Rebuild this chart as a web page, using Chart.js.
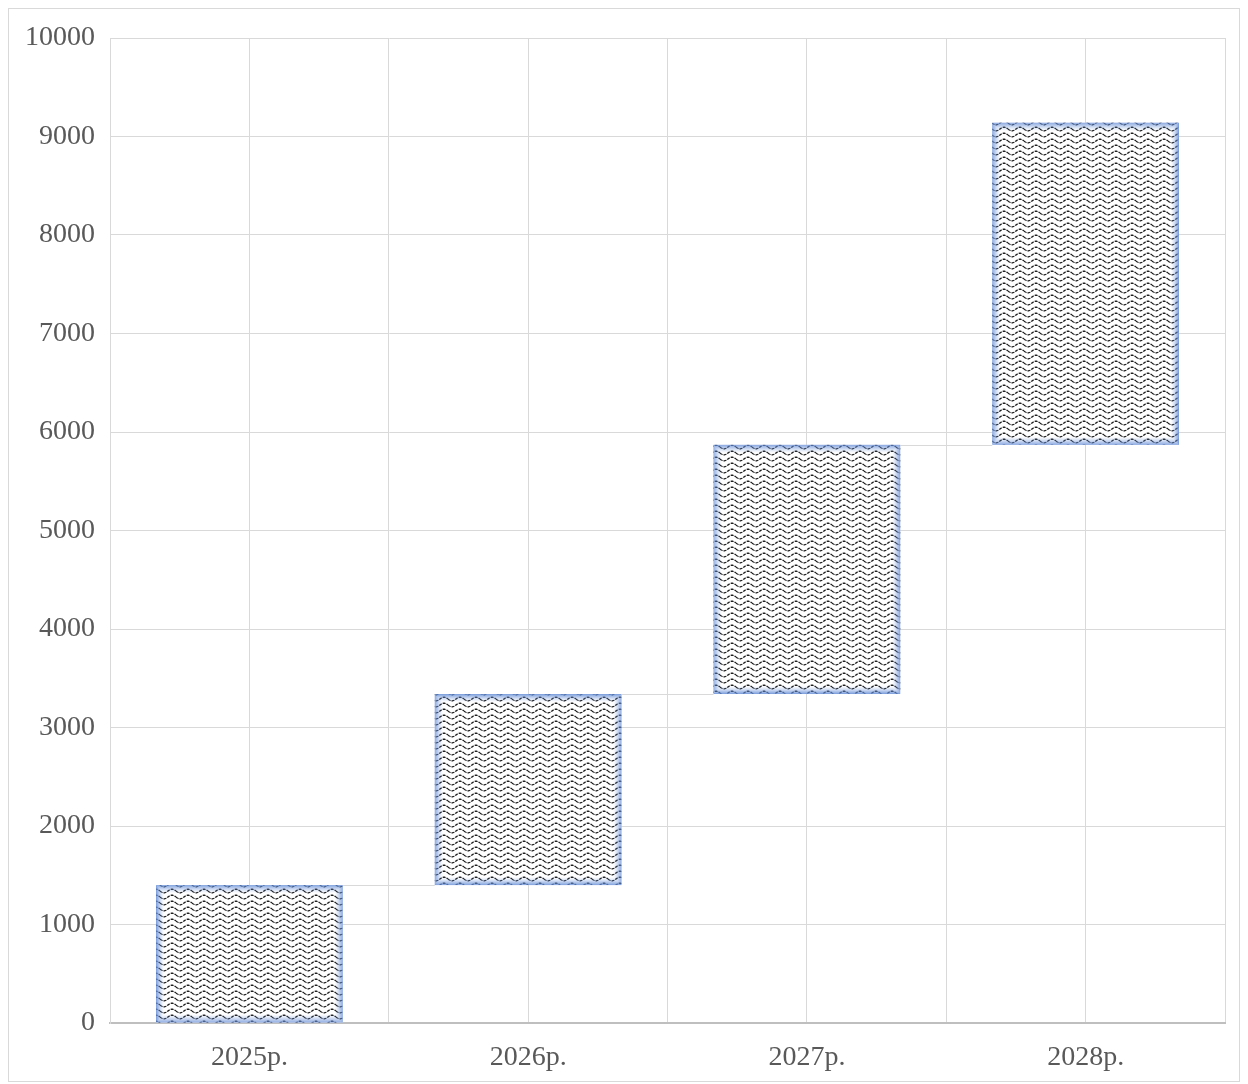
<!DOCTYPE html>
<html>
<head>
<meta charset="utf-8">
<script src="https://cdn.jsdelivr.net/npm/chart.js@4/dist/chart.umd.min.js"></script>
<style>
  html, body { margin: 0; padding: 0; background: #fff; }
  #wrap { width: 1248px; height: 1084px; }
</style>
</head>
<body>
<div id="wrap"><canvas id="chart" width="1248" height="1084"></canvas></div>
<script>
// waterfall data
const categories = ['2025р.', '2026р.', '2027р.', '2028р.'];
const startValues = [0, 1400, 3340, 5870];
const endValues = [1400, 3340, 5870, 9140];
const yTicks = [0, 1000, 2000, 3000, 4000, 5000, 6000, 7000, 8000, 9000, 10000];

// wavy line hatch, like the office "wave" pattern
function makeWave() {
  const c = document.createElement('canvas');
  c.width = 16; c.height = 6;
  const g = c.getContext('2d');
  g.fillStyle = '#fff';
  g.fillRect(0, 0, 16, 6);
  g.strokeStyle = '#1f1f1f';
  g.lineWidth = 1.3;
  g.setLineDash([3, 1]);
  g.beginPath();
  for (let x = 0; x <= 16; x += 0.5) {
    const y = 3 + 1.8 * Math.sin((x / 16) * Math.PI * 2);
    if (x === 0) g.moveTo(x, y); else g.lineTo(x, y);
  }
  g.stroke();
  return g.createPattern(c, 'repeat');
}

const frame = {
  id: 'frame',
  beforeDraw(chart) {
    const ctx = chart.ctx;
    ctx.save();
    ctx.strokeStyle = '#d9d9d9';
    ctx.lineWidth = 1;
    ctx.strokeRect(8.5, 8.5, 1231, 1073);
    ctx.restore();
  }
};

const connectors = {
  id: 'connectors',
  beforeDatasetsDraw(chart) {
    const meta = chart.getDatasetMeta(0);
    const y = chart.scales.y;
    const ctx = chart.ctx;
    ctx.save();
    ctx.strokeStyle = '#d9d9d9';
    ctx.lineWidth = 1;
    for (let i = 0; i < meta.data.length - 1; i++) {
      const a = meta.data[i], b = meta.data[i + 1];
      const py = Math.round(y.getPixelForValue(endValues[i])) + 0.5;
      ctx.beginPath();
      ctx.moveTo(a.x + a.width / 2, py);
      ctx.lineTo(b.x - b.width / 2, py);
      ctx.stroke();
    }
    ctx.restore();
  }
};

// soft blue edge inside each bar
const softEdge = {
  id: 'softEdge',
  afterDatasetsDraw(chart) {
    const meta = chart.getDatasetMeta(0);
    const ctx = chart.ctx;
    ctx.save();
    ctx.lineWidth = 1;
    meta.data.forEach(bar => {
      const l = bar.x - bar.width / 2, r = bar.x + bar.width / 2;
      const t = Math.min(bar.y, bar.base), b = Math.max(bar.y, bar.base);
      for (let k = 0; k < 8; k++) {
        ctx.strokeStyle = 'rgba(100, 140, 215,' + (0.8 * Math.pow(1 - k / 8, 1.5)).toFixed(3) + ')';
        ctx.strokeRect(l + k + 0.5, t + k + 0.5, r - l - 2 * k - 1, b - t - 2 * k - 1);
      }
    });
    ctx.restore();
  }
};

const tickFont = { family: '"Liberation Serif", "Times New Roman", serif', size: 28 };

new Chart(document.getElementById('chart'), {
  type: 'bar',
  data: {
    labels: categories,
    datasets: [{
      data: categories.map((c, i) => [startValues[i], endValues[i]]),
      backgroundColor: makeWave(),
      borderWidth: 0,
      borderSkipped: false,
      categoryPercentage: 1,
      barPercentage: 0.67
    }]
  },
  options: {
    responsive: false,
    animation: false,
    layout: { padding: { left: 0, top: 38, right: 23, bottom: 0 } },
    plugins: { legend: { display: false }, tooltip: { enabled: false } },
    scales: {
      x: {
        offset: true,
        grid: { color: '#d9d9d9', offset: true, drawTicks: false },
        border: { color: '#bfbfbf', width: 2 },
        ticks: { color: '#595959', font: tickFont, padding: 18 },
        afterFit(s) { s.height = 61; }
      },
      x2: {
        type: 'category',
        labels: categories,
        position: 'bottom',
        offset: true,
        grid: { color: '#d9d9d9', offset: false, drawTicks: false },
        border: { display: false },
        ticks: { display: false },
        afterFit(s) { s.height = 0; }
      },
      y: {
        min: 0,
        max: 10000,
        afterBuildTicks(s) { s.ticks = yTicks.map(v => ({ value: v })); },
        grid: { color: '#d9d9d9', drawTicks: false },
        border: { color: '#d9d9d9' },
        ticks: { color: '#595959', font: tickFont, padding: 15, callback: v => String(v) },
        afterFit(s) { s.width = 110; }
      }
    }
  },
  plugins: [frame, connectors, softEdge]
});
</script>
</body>
</html>
